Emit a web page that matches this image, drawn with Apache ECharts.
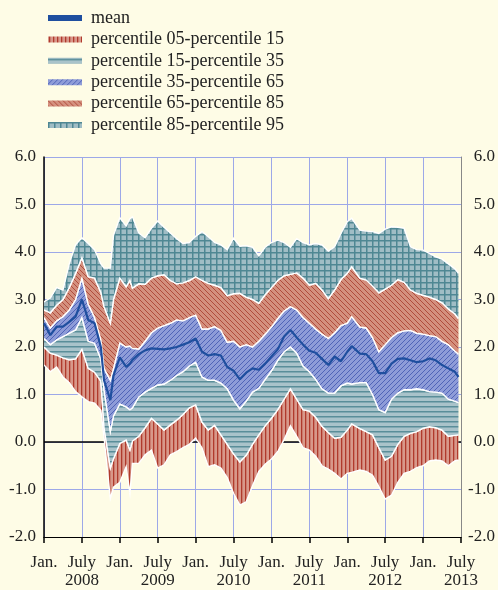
<!DOCTYPE html>
<html><head><meta charset="utf-8">
<script src="https://cdn.jsdelivr.net/npm/echarts@6/dist/echarts.min.js"></script>
<style>html,body{margin:0;padding:0;background:#FEFCE6;} #c{width:498px;height:590px;}</style>
</head><body><div id="c"></div>
<script>
// months since Jan. 2008
const months = [0,1,2,3,4,5,6,7,8,9,9.5,10.5,11,12,13,13.6,14,15,16,17,18,19,20,21,22,23,24,25,26,27,28,29,30,31,32,33,34,35,36,37,38,39,40,41,42,43,44,45,46,47,48,48.7,50,51,52,53,54,55,56,57,58,59,60,61,62,63,64,65,65.6];
const p95 = [2.95,3.03,3.25,3.2,3.75,4.15,4.3,4.18,4.05,3.75,3.66,3.66,4.35,4.72,4.55,4.7,4.74,4.4,4.3,4.5,4.65,4.52,4.4,4.28,4.18,4.2,4.33,4.43,4.32,4.2,4.15,4.05,4.29,4.12,4.13,4.1,3.92,4.1,4.2,4.25,4.2,4.1,4.28,4.2,4.15,4.18,4.15,4.02,4.11,4.39,4.64,4.71,4.46,4.44,4.43,4.39,4.48,4.53,4.52,4.5,4.11,4.05,4.04,3.97,3.9,3.85,3.75,3.65,3.55];
const p85 = [2.78,2.72,2.88,3.0,3.25,3.55,3.88,3.48,3.45,3.15,2.85,2.5,3.0,3.45,3.27,3.4,3.24,3.33,3.32,3.45,3.5,3.52,3.4,3.33,3.35,3.4,3.48,3.4,3.34,3.3,3.25,3.08,3.12,3.13,3.05,3.0,2.92,3.1,3.25,3.4,3.5,3.53,3.56,3.45,3.3,3.34,3.2,3.02,3.2,3.42,3.55,3.69,3.45,3.41,3.28,3.14,3.22,3.3,3.42,3.36,3.2,3.13,3.09,3.05,3.0,2.93,2.8,2.7,2.6];
const p65 = [2.62,2.4,2.55,2.64,2.78,3.0,3.45,2.9,2.62,2.15,1.55,1.3,1.55,2.08,2.0,2.02,1.97,1.96,2.12,2.3,2.4,2.45,2.5,2.57,2.55,2.62,2.67,2.38,2.38,2.43,2.35,2.1,2.12,2.0,2.05,2.0,2.12,2.27,2.42,2.6,2.76,2.85,2.78,2.62,2.5,2.38,2.27,2.18,2.3,2.45,2.5,2.64,2.42,2.4,2.2,1.9,2.05,2.2,2.3,2.34,2.35,2.29,2.27,2.24,2.22,2.12,2.05,1.92,1.85];
const meanV = [2.5,2.25,2.43,2.43,2.53,2.64,3.0,2.57,2.5,2.0,1.3,0.88,1.4,1.78,1.58,1.65,1.73,1.85,1.93,1.97,1.96,1.95,1.97,2.0,2.05,2.1,2.18,1.9,1.82,1.85,1.82,1.58,1.5,1.32,1.46,1.55,1.52,1.65,1.8,1.95,2.22,2.36,2.2,2.05,1.92,1.88,1.75,1.62,1.8,1.7,1.9,2.02,1.86,1.85,1.7,1.45,1.45,1.65,1.75,1.76,1.72,1.68,1.7,1.76,1.72,1.62,1.55,1.48,1.37];
const p35 = [2.18,2.05,2.15,2.22,2.29,2.36,2.62,2.12,2.08,1.75,1.1,0.22,0.55,0.8,0.74,0.68,0.72,0.95,1.05,1.13,1.2,1.22,1.3,1.4,1.48,1.6,1.68,1.37,1.3,1.3,1.24,1.12,0.88,0.7,0.86,1.05,1.13,1.32,1.5,1.72,1.9,2.0,1.87,1.6,1.48,1.32,1.12,1.03,1.03,1.18,1.24,1.22,1.25,1.25,1.0,0.68,0.62,0.9,1.03,1.1,1.1,1.12,1.1,1.06,1.05,1.03,0.9,0.86,0.83];
const p15 = [2.0,1.87,1.83,1.77,1.73,1.75,1.95,1.55,1.47,1.28,0.3,-0.55,-0.35,-0.03,0.04,-0.17,0.02,0.12,0.3,0.5,0.38,0.25,0.36,0.46,0.58,0.72,0.78,0.42,0.25,0.35,0.15,-0.05,-0.25,-0.42,-0.28,-0.05,0.15,0.34,0.5,0.68,0.9,1.12,0.9,0.68,0.65,0.52,0.33,0.2,0.08,0.1,0.25,0.38,0.28,0.22,0.15,-0.12,-0.38,-0.3,-0.05,0.12,0.18,0.22,0.29,0.32,0.3,0.25,0.12,0.14,0.15];
const p05 = [1.62,1.48,1.58,1.37,1.25,1.06,0.95,0.85,0.82,0.67,0.1,-1.19,-0.95,-0.85,-0.52,-1.08,-0.45,-0.45,-0.27,-0.17,-0.55,-0.48,-0.27,-0.2,-0.12,-0.05,0.08,-0.12,-0.52,-0.48,-0.55,-0.75,-1.08,-1.33,-1.26,-0.92,-0.62,-0.47,-0.36,-0.2,0.05,0.34,0.12,-0.12,-0.17,-0.3,-0.5,-0.57,-0.66,-0.78,-0.66,-0.64,-0.59,-0.62,-0.7,-0.94,-1.2,-1.12,-0.85,-0.66,-0.62,-0.54,-0.5,-0.4,-0.38,-0.4,-0.5,-0.4,-0.38];
const xTickLabels = ['Jan.','July\n2008','Jan.','July\n2009','Jan.','July\n2010','Jan.','July\n2011','Jan.','July\n2012','Jan.','July\n2013'];
const bandNames = ['percentile 05-percentile 15','percentile 15-percentile 35','percentile 35-percentile 65','percentile 65-percentile 85','percentile 85-percentile 95'];
const meanName = 'mean';

function pat(w, h, bg, draw) {
  const c = document.createElement('canvas');
  c.width = w; c.height = h;
  const g = c.getContext('2d');
  g.fillStyle = bg; g.fillRect(0, 0, w, h);
  draw(g, w, h);
  return { image: c, repeat: 'repeat' };
}
const patRedV = pat(4, 4, '#D8988A', (g) => { g.fillStyle = '#B03A2C'; g.fillRect(1, 0, 1.3, 4); });
const patTealH = pat(4, 5, '#A9C3CA', (g) => { g.fillStyle = '#5A8E99'; g.fillRect(0, 1, 4, 1.5); });
const patBlueD = pat(5, 5, '#8E9CD8', (g) => {
  g.strokeStyle = '#4A5DB4'; g.lineWidth = 0.9; g.beginPath();
  g.moveTo(-1, 6); g.lineTo(6, -1); g.moveTo(-1, 1); g.lineTo(1, -1); g.moveTo(4, 6); g.lineTo(6, 4); g.stroke();
});
const patRedD = pat(5, 5, '#D4907E', (g) => {
  g.strokeStyle = '#AC4434'; g.lineWidth = 0.9; g.beginPath();
  g.moveTo(-1, -1); g.lineTo(6, 6); g.moveTo(4, -1); g.lineTo(6, 1); g.moveTo(-1, 4); g.lineTo(1, 6); g.stroke();
});
const patGrid = pat(6, 6, '#A0BDC5', (g) => { g.fillStyle = '#4F8793'; g.fillRect(0, 0, 6, 1.5); g.fillRect(0, 0, 1.5, 6); });
const bandPatterns = [patRedV, patTealH, patBlueD, patRedD, patGrid];
const lows = [p05, p15, p35, p65, p85];
const highs = [p15, p35, p65, p85, p95];

const font = 'Liberation Serif';

function bandSeries(name, k) {
  const s = {
    type: 'custom', name: name, coordinateSystem: 'cartesian2d', z: 2, silent: true, clip: true,
    itemStyle: { color: bandPatterns[k] },
    encode: { x: 0, y: [1, 2] },
    data: months.map((m, i) => [m, lows[k][i], highs[k][i]]),
    renderItem: function (params, api) {
      if (params.dataIndexInside !== 0) return null;
      const n = params.dataInsideLength;
      const top = [], bot = [];
      for (let i = 0; i < n; i++) {
        const x = api.value(0, i);
        top.push(api.coord([x, api.value(2, i)]));
        bot.push(api.coord([x, api.value(1, i)]));
      }
      return {
        type: 'group',
        children: [
          { type: 'polygon', shape: { points: top.concat(bot.slice().reverse()) }, style: { fill: bandPatterns[k], stroke: null } },
          { type: 'polyline', shape: { points: bot }, style: { stroke: '#ffffff', lineWidth: 1.4, fill: null } },
          { type: 'polyline', shape: { points: top }, style: { stroke: '#ffffff', lineWidth: 1.4, fill: null } }
        ]
      };
    }
  };
  if (k === 0) {
    s.markLine = {
      silent: true, symbol: 'none', z: 1, label: { show: false },
      lineStyle: { color: '#000000', width: 1.6, type: 'solid' },
      data: [{ yAxis: 0 }]
    };
  }
  return s;
}

const series = bandNames.map((n, k) => bandSeries(n, k));
series.push({
  type: 'line', name: meanName, z: 5,
  data: months.map((m, i) => [m, meanV[i]]),
  symbol: 'none', showSymbol: false, silent: true,
  itemStyle: { color: '#1F4F9F' },
  lineStyle: { color: '#1F4F9F', width: 2.2 },
  emphasis: { disabled: true }
});

const chart = echarts.init(document.getElementById('c'), null, { renderer: 'canvas' });
chart.setOption({
  animation: false,
  backgroundColor: '#FEFCE6',
  legend: {
    orient: 'vertical', left: 43, top: 4, itemWidth: 34, itemHeight: 6, itemGap: 3.4,
    icon: 'rect',
    textStyle: { fontFamily: font, fontSize: 18, lineHeight: 18, color: '#222', padding: [0, 0, 0, 4] },
    data: [{ name: meanName, itemStyle: { color: '#1F4F9F' } }].concat(
      bandNames.map((n, k) => ({ name: n, itemStyle: { color: bandPatterns[k], borderWidth: 0 } })))
  },
  grid: { left: 44, right: 37, top: 157, bottom: 53, containLabel: false, outerBoundsMode: 'none' },
  xAxis: {
    type: 'value', min: 0, max: 66, interval: 6,
    axisLine: { onZero: false, lineStyle: { color: '#000', width: 1 } },
    axisTick: { show: true, inside: false, length: 6, lineStyle: { color: '#000', width: 1.5 } },
    axisLabel: {
      formatter: (v) => xTickLabels[Math.round(v / 6)],
      fontFamily: font, fontSize: 17, color: '#222', lineHeight: 18, margin: 17,
      showMinLabel: true, showMaxLabel: true
    },
    splitLine: { show: true, lineStyle: { color: '#9DA8E8', width: 1 } }
  },
  yAxis: [{
    type: 'value', min: -2, max: 6, interval: 1, position: 'left',
    axisLine: { show: true, lineStyle: { color: '#000', width: 1.5 } },
    axisTick: { show: false },
    axisLabel: { formatter: (v) => v.toFixed(1), fontFamily: font, fontSize: 17, color: '#222', margin: 8 },
    splitLine: { show: true, lineStyle: { color: '#9DA8E8', width: 1 } }
  }, {
    type: 'value', min: -2, max: 6, interval: 1, position: 'right',
    axisLine: { show: true, lineStyle: { color: '#888', width: 1 } },
    axisTick: { show: false },
    axisLabel: { formatter: (v) => v.toFixed(1), fontFamily: font, fontSize: 17, color: '#222', margin: 34, align: 'right' },
    splitLine: { show: false }
  }],
  series: series
});
</script>
</body></html>
